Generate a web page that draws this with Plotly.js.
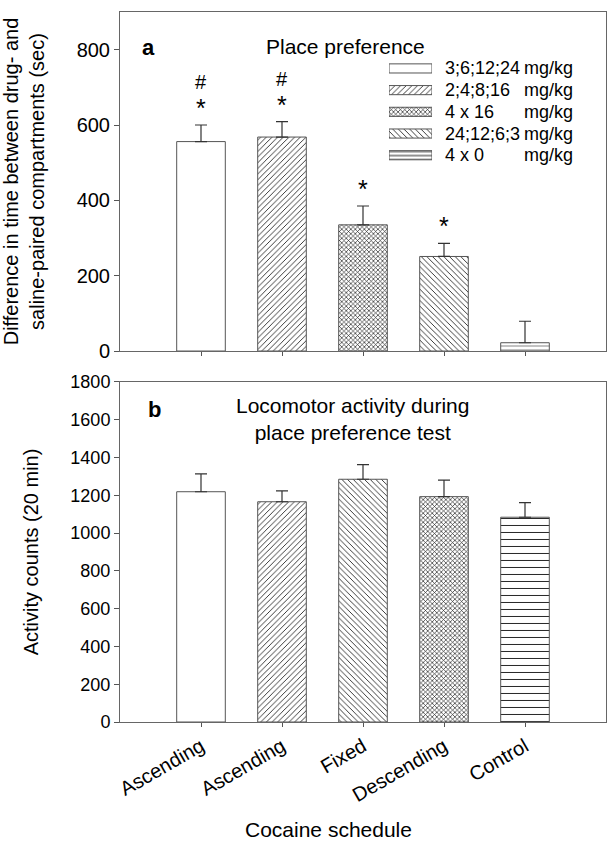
<!DOCTYPE html>
<html>
<head>
<meta charset="utf-8">
<script src="https://cdn.plot.ly/plotly-3.0.1.min.js"></script>
<style>html,body{margin:0;padding:0;background:#fff;}#chart{width:614px;height:848px;}</style>
</head>
<body>
<div id="chart"></div>
<script>
// ---- data ----
const positions = [0, 1, 2, 3, 4];
const scheduleLabels = ['Ascending', 'Ascending', 'Fixed', 'Descending', 'Control'];

// Panel a: place preference (sec)
const cppMean = [556, 568, 335, 251, 22];
const cppSem  = [44, 41, 50, 35, 57];
const cppPatterns = ['', '/', 'x', '\\', '-'];
const cppStar = [true, true, true, true, false];
const cppHash = [true, true, false, false, false];

// Panel b: locomotor activity (counts / 20 min)
const locoMean = [1219, 1166, 1285, 1193, 1084];
const locoSem  = [95, 57, 77, 87, 77];
const locoPatterns = ['', '/', '\\', 'x', '-'];

// Legend
const legendDoses = ['3;6;12;24', '2;4;8;16', '4 x 16', '24;12;6;3', '4 x 0'];
const legendUnit = 'mg/kg';
const legendPatterns = ['', '/', 'x', '\\', '-'];

const FONT = 'Arial, "Liberation Sans", sans-serif';
const zeros = positions.map(() => 0);

function patSize(s) { return s === 'x' ? 3.2 : (s === '-' ? 7 : 4); }
function patSolid(s) { return s === 'x' ? 0.38 : (s === '-' ? 0.14 : 0.22); }

function barTrace(xa, ya, y, err, shapes, minusSize) {
  return {
    type: 'bar', x: positions, y: y, xaxis: xa, yaxis: ya, width: 0.6,
    marker: {
      color: 'white',
      line: {color: '#555', width: 1},
      pattern: {shape: shapes, fgcolor: '#222', bgcolor: 'white',
                size: shapes.map(s => s === '-' ? minusSize : patSize(s)),
                solidity: shapes.map(patSolid)}
    },
    error_y: {type: 'data', symmetric: false, array: err, arrayminus: zeros,
              color: '#333', thickness: 1.2, width: 6},
    hoverinfo: 'skip'
  };
}

const traces = [
  barTrace('x', 'y', cppMean, cppSem, cppPatterns, 4),
  barTrace('x2', 'y2', locoMean, locoSem, locoPatterns, 7),
  {
    type: 'bar', orientation: 'h', x: legendDoses.map(() => 1), y: positions,
    xaxis: 'x3', yaxis: 'y3', width: 0.42,
    marker: {color: 'white', line: {color: '#555', width: 1},
             pattern: {shape: legendPatterns, fgcolor: '#222', bgcolor: 'white',
                       size: legendPatterns.map(s => s === '-' ? 4 : patSize(s)),
                       solidity: legendPatterns.map(s => s === '-' ? 0.25 : patSolid(s))}},
    hoverinfo: 'skip'
  }
];

const annotations = [];
// significance marks
positions.forEach((p, i) => {
  if (cppStar[i]) annotations.push({x: p, y: cppMean[i] + cppSem[i], xref: 'x', yref: 'y',
    text: '*', showarrow: false, yanchor: 'bottom', yshift: 1, font: {family: FONT, size: 25, color: '#000'}});
  if (cppHash[i]) annotations.push({x: p, y: cppMean[i] + cppSem[i], xref: 'x', yref: 'y',
    text: '#', showarrow: false, yanchor: 'bottom', yshift: 30, font: {family: FONT, size: 20, color: '#000'}});
});
// legend text
legendDoses.forEach((d, i) => {
  annotations.push({x: 0.6646, y: i, xref: 'paper', yref: 'y3', text: d, showarrow: false,
    xanchor: 'left', yanchor: 'middle', font: {family: FONT, size: 18, color: '#000'}});
  annotations.push({x: 0.936, y: i, xref: 'paper', yref: 'y3', text: legendUnit, showarrow: false,
    xanchor: 'right', yanchor: 'middle', font: {family: FONT, size: 18, color: '#000'}});
});
// panel titles and labels
annotations.push(
  {x: 0.042, y: 0.970, xref: 'paper', yref: 'paper', text: '<b>a</b>', showarrow: false,
   font: {family: FONT, size: 22, color: '#000'}},
  {x: 0.464, y: 0.970, xref: 'paper', yref: 'paper', text: 'Place preference', showarrow: false,
   font: {family: FONT, size: 21, color: '#000'}},
  {x: 0.0525, y: 0.4408, xref: 'paper', yref: 'paper', text: '<b>b</b>', showarrow: false,
   font: {family: FONT, size: 22, color: '#000'}},
  {x: 0.479, y: 0.4268, xref: 'paper', yref: 'paper', text: 'Locomotor activity during<br>place preference test',
   showarrow: false, font: {family: FONT, size: 21, color: '#000'}},
  {x: 0.428, y: -0.152, xref: 'paper', yref: 'paper', text: 'Cocaine schedule', showarrow: false,
   yanchor: 'middle', font: {family: FONT, size: 21, color: '#000'}}
);

const axLine = {showline: true, linecolor: '#666', linewidth: 1, mirror: true, showgrid: false, zeroline: false,
                ticks: 'outside', ticklen: 5, tickcolor: '#555', tickwidth: 1};

const layout = {
  width: 614, height: 848,
  margin: {l: 120, r: 8, t: 12, b: 126},
  paper_bgcolor: 'white', plot_bgcolor: 'white',
  showlegend: false,
  font: {family: FONT, color: '#000'},
  xaxis: Object.assign({}, axLine, {domain: [0, 1], anchor: 'y', range: [-1, 5],
    tickvals: positions, showticklabels: false, ticklen: 4}),
  yaxis: Object.assign({}, axLine, {domain: [0.5225, 1], anchor: 'x', range: [0, 900],
    tickvals: [0, 200, 400, 600, 800], tickfont: {size: 20},
    title: {text: 'Difference in time between drug- and<br>saline-paired compartments (sec)',
            font: {size: 20}, standoff: 28}}),
  xaxis2: Object.assign({}, axLine, {domain: [0, 1], anchor: 'y2', range: [-1, 5],
    tickvals: positions, ticktext: scheduleLabels, tickangle: -30, tickfont: {size: 20}, ticklen: 4}),
  yaxis2: Object.assign({}, axLine, {domain: [0, 0.4789], anchor: 'x2', range: [0, 1800],
    dtick: 200, tickfont: {size: 18},
    title: {text: 'Activity counts (20 min)', font: {size: 20}, standoff: 26}}),
  xaxis3: {domain: [0.5535, 0.642], anchor: 'y3', range: [0, 1], visible: false, fixedrange: true},
  yaxis3: {domain: [0.783, 0.9358], anchor: 'x3', range: [4.5, -0.5], visible: false, fixedrange: true},
  annotations: annotations
};

Plotly.newPlot('chart', traces, layout, {displayModeBar: false, staticPlot: true});
</script>
</body>
</html>
